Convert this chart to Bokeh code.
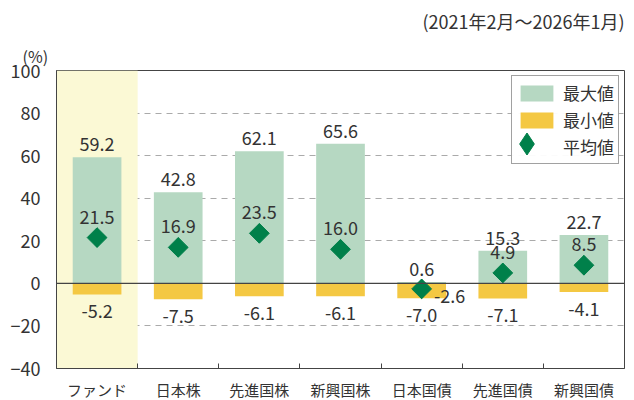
import math
from bokeh.plotting import figure
from bokeh.models import (ColumnDataSource, Range1d, FixedTicker, Span, Title,
                          Legend, LegendItem, CDSView, IndexFilter)
from bokeh.core.properties import value
from bokeh.embed import file_html
from bokeh.resources import INLINE

categories = ["ファンド", "日本株", "先進国株", "新興国株", "日本国債", "先進国債", "新興国債"]
max_vals = [59.2, 42.8, 62.1, 65.6, 0.6, 15.3, 22.7]
min_vals = [-5.2, -7.5, -6.1, -6.1, -7.0, -7.1, -4.1]
mean_vals = [21.5, 16.9, 23.5, 16.0, -2.6, 4.9, 8.5]
y_ticks = [-40, -20, 0, 20, 40, 60, 80, 100]
period = "(2021年2月～2026年1月)"
unit = "(%)"

FONT = "Noto Sans CJK JP"
GREEN = "#b6d8c2"
YELLOW = "#f4c843"
DIAMOND = "#00804a"
BAND = "#fbf9d5"
TXT = "#333333"

xs = [i + 0.5 for i in range(len(categories))]
src = ColumnDataSource(dict(
    x=xs, cat=categories, mx=max_vals, mn=min_vals, mean=mean_vals,
    mx_t=[f"{v:.1f}" for v in max_vals],
    mn_t=[f"{v:.1f}" for v in min_vals],
    mean_t=[f"{v:.1f}" for v in mean_vals],
))

p = figure(frame_width=568, frame_height=298, output_backend="svg",
           toolbar_location=None, x_range=Range1d(0, len(categories)),
           y_range=Range1d(y_ticks[0], y_ticks[-1]),
           min_border_left=56, min_border_right=2, min_border_top=0, min_border_bottom=0)
p.title.visible = False

# titles above
t1 = Title(text=unit, align="left", text_font=FONT, text_font_size="16px",
           text_font_style="normal", text_color=TXT, offset=-34, standoff=6)
t2 = Title(text=period, align="right", text_font=FONT, text_font_size="18px",
           text_font_style="normal", text_color=TXT, standoff=10)
p.add_layout(t1, "above")
p.add_layout(t2, "above")

# highlight band for fund
p.vbar(x=[xs[0]], width=1.0, top=[y_ticks[-1]], bottom=[y_ticks[0]],
       fill_color=BAND, line_color=None)

# grid
p.xgrid.visible = False
p.ygrid.ticker = FixedTicker(ticks=[t for t in y_ticks if t not in (0, y_ticks[0], y_ticks[-1])])
p.ygrid.grid_line_color = "#aaaaaa"
p.ygrid.grid_line_dash = "6 5"
p.ygrid.grid_line_width = 1

r_max = p.vbar(x="x", width=0.6, top="mx", bottom=0, source=src,
               fill_color=GREEN, line_color=None)
r_min = p.vbar(x="x", width=0.6, top=0, bottom="mn", source=src,
               fill_color=YELLOW, line_color=None)
p.add_layout(Span(location=0, dimension="width", line_color="#444444", line_width=1.2))
# diamond used for the legend symbol (fully covered by the rotated squares below)
r_mean_leg = p.scatter(x="x", y="mean", source=src, marker="diamond", size=19,
                       fill_color=DIAMOND, line_color=DIAMOND)
p.scatter(x="x", y="mean", source=src, marker="square", size=14,
          angle=math.pi / 4, fill_color=DIAMOND, line_color=DIAMOND)

lab = dict(text_font=value(FONT), text_font_size="18px", text_color=TXT,
           text_align="center", text_baseline="middle")
p.text(x="x", y="mx", text="mx_t", source=src, y_offset=-13, **lab)
p.text(x="x", y="mn", text="mn_t", source=src, y_offset=17, **lab)
normal = [i for i in range(len(categories)) if i != 4]
p.text(x="x", y="mean", text="mean_t", source=src, y_offset=-21,
       view=CDSView(filter=IndexFilter(normal)), **lab)
p.text(x="x", y="mean", text="mean_t", source=src, x_offset=28, y_offset=7,
       view=CDSView(filter=IndexFilter([4])), **lab)

# axes
p.yaxis.ticker = FixedTicker(ticks=y_ticks)
p.yaxis.major_tick_line_color = None
p.yaxis.minor_tick_line_color = None
p.yaxis.major_label_text_font = FONT
p.yaxis.major_label_text_font_size = "18px"
p.yaxis.major_label_text_color = TXT
p.yaxis.major_label_standoff = 10
p.yaxis.axis_line_color = "#444444"

p.xaxis.ticker = FixedTicker(ticks=xs, minor_ticks=list(range(1, len(categories))))
p.xaxis.major_label_overrides = {x: c for x, c in zip(xs, categories)}
p.xaxis.major_tick_line_color = None
p.xaxis.minor_tick_in = 5
p.xaxis.minor_tick_out = 0
p.xaxis.minor_tick_line_color = "#444444"
p.xaxis.major_label_text_font = FONT
p.xaxis.major_label_text_font_size = "15px"
p.xaxis.major_label_text_color = TXT
p.xaxis.major_label_standoff = 4
p.xaxis.axis_line_color = "#444444"

p.outline_line_color = "#444444"
p.outline_line_alpha = 1

legend = Legend(items=[
    LegendItem(label="最大値", renderers=[r_max]),
    LegendItem(label="最小値", renderers=[r_min]),
    LegendItem(label="平均値", renderers=[]),
], location="top_right")
legend.label_text_font = FONT
legend.label_text_font_size = "17px"
legend.label_text_color = TXT
legend.label_height = 20
legend.glyph_width = 41
legend.glyph_height = 20
legend.spacing = 2
legend.padding = 4
legend.margin = 5
legend.border_line_color = "#444444"
legend.label_standoff = 6
p.add_layout(legend)

# larger diamond symbol for the 平均値 legend row (legend markers are scaled to the glyph box)
legend2 = Legend(items=[LegendItem(label=" ", renderers=[r_mean_leg])],
                 location=(443, 197))
legend2.glyph_width = 55
legend2.glyph_height = 55
legend2.padding = 0
legend2.margin = 0
legend2.spacing = 0
legend2.label_standoff = 0
legend2.label_width = 0
legend2.label_height = 0
legend2.label_text_font_size = "1px"
legend2.border_line_color = None
legend2.background_fill_alpha = 0
p.add_layout(legend2)

open("out.html", "w").write(file_html(p, INLINE))
